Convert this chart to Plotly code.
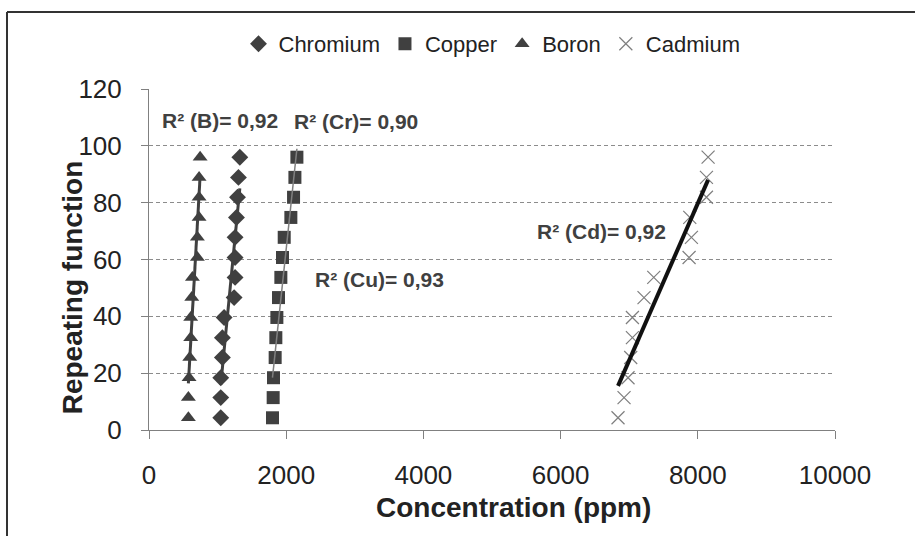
import numpy as np
import plotly.graph_objects as go

# ---- data ----
repeat_fn = [4.3, 11.4, 18.4, 25.5, 32.5, 39.6, 46.6, 53.7, 60.7, 67.8, 74.8, 81.9, 88.9, 96.0]
chromium = [1046, 1046, 1046, 1070, 1070, 1095, 1241, 1255, 1255, 1255, 1275, 1290, 1304, 1324]
copper = [1800, 1810, 1815, 1839, 1849, 1864, 1888, 1922, 1946, 1971, 2068, 2107, 2127, 2156]
boron = [574, 574, 584, 594, 608, 608, 623, 633, 705, 705, 730, 730, 730, 745]
cadmium = [6837, 6925, 6983, 7022, 7047, 7047, 7216, 7358, 7873, 7907, 7883, 8126, 8126, 8150]

x_ticks = [0, 2000, 4000, 6000, 8000, 10000]
x_tick_text = ["0", "2000", "4000", "6000", "8000", "10000"]
y_ticks = [0, 20, 40, 60, 80, 100, 120]

x_title = "Concentration (ppm)"
y_title = "Repeating function"

r2_labels = ["R² (B)= 0,92", "R² (Cr)= 0,90", "R² (Cu)= 0,93", "R² (Cd)= 0,92"]
r2_pos_x = [1035, 3017, 3353, 6603]
r2_pos_y = [109, 108.4, 52.8, 69.7]

DARK = "#404040"
FONT = "Liberation Sans, Arial, sans-serif"

series = [
    ("Chromium", chromium, dict(symbol="diamond", size=13, color=DARK), dict(color=DARK, width=3)),
    ("Copper", copper, dict(symbol="square", size=13, color=DARK), dict(color="#808080", width=1.5)),
    ("Boron", boron, dict(symbol="triangle-up", size=13, color=DARK), dict(color=DARK, width=3)),
    ("Cadmium", cadmium, dict(symbol="x-thin", size=13, color="#7f7f7f",
                              line=dict(color="#7f7f7f", width=1.2)), dict(color="#111111", width=4)),
]

fig = go.Figure()

for name, xs, marker, _ in series:
    fig.add_trace(go.Scatter(x=xs, y=repeat_fn, mode="markers", name=name, marker=marker))

# linear trendlines (y on x), drawn between min and max x
for name, xs, _, line in series:
    a, b = np.polyfit(np.array(xs, float), np.array(repeat_fn, float), 1)
    xr = np.array([min(xs), max(xs)], float)
    fig.add_trace(go.Scatter(x=xr, y=a * xr + b, mode="lines", line=line,
                             showlegend=False, hoverinfo="skip"))

for txt, ax, ay in zip(r2_labels, r2_pos_x, r2_pos_y):
    fig.add_annotation(x=ax, y=ay, text=txt, showarrow=False,
                       font=dict(family=FONT, size=21, color=DARK, weight="bold"))

# axis titles (placed like the reference, slightly off-centre)
title_font = dict(family=FONT, size=28, color="#222222", weight="bold")
fig.add_annotation(xref="paper", yref="paper", x=0.532, y=-0.226, text=x_title,
                   showarrow=False, xanchor="center", yanchor="middle", font=title_font)
fig.add_annotation(xref="paper", yref="paper", x=-0.112, y=0.419, text=y_title,
                   textangle=-90, showarrow=False, xanchor="center", yanchor="middle",
                   font=title_font)

# outer frame: only the left and top edges fall inside the page
frame = dict(color="#333333", width=2)
fig.add_shape(type="line", xref="paper", yref="paper",
              x0=-0.207, x1=-0.207, y0=-0.311, y1=1.2258, line=frame)
fig.add_shape(type="line", xref="paper", yref="paper",
              x0=-0.207, x1=1.1166, y0=1.2258, y1=1.2258, line=frame)

fig.update_layout(
    width=915, height=536,
    margin=dict(l=149, r=80, t=89, b=106),
    paper_bgcolor="white", plot_bgcolor="white",
    font=dict(family=FONT, color="#222222"),
    legend=dict(orientation="h", x=0.5, xanchor="center", y=1.132, yanchor="middle",
                font=dict(family=FONT, size=22, color="#222222"),
                itemwidth=30, bgcolor="rgba(0,0,0,0)"),
    xaxis=dict(range=[0, 10000], tickvals=x_ticks, ticktext=x_tick_text,
               showgrid=False, zeroline=False,
               showline=True, linecolor="#808080", linewidth=1,
               ticks="outside", ticklen=8, tickcolor="#808080",
               tickfont=dict(family=FONT, size=26, color="#222222"),
               ticklabelstandoff=14),
    yaxis=dict(range=[0, 120], tickvals=y_ticks, showgrid=True, gridcolor="#8c8c8c",
               gridwidth=1, griddash="4px,3px", zeroline=False,
               showline=True, linecolor="#808080", linewidth=1,
               ticks="outside", ticklen=7, tickcolor="#808080",
               tickfont=dict(family=FONT, size=26, color="#222222"),
               ticklabelstandoff=14),
)

fig.write_html("out.html")
